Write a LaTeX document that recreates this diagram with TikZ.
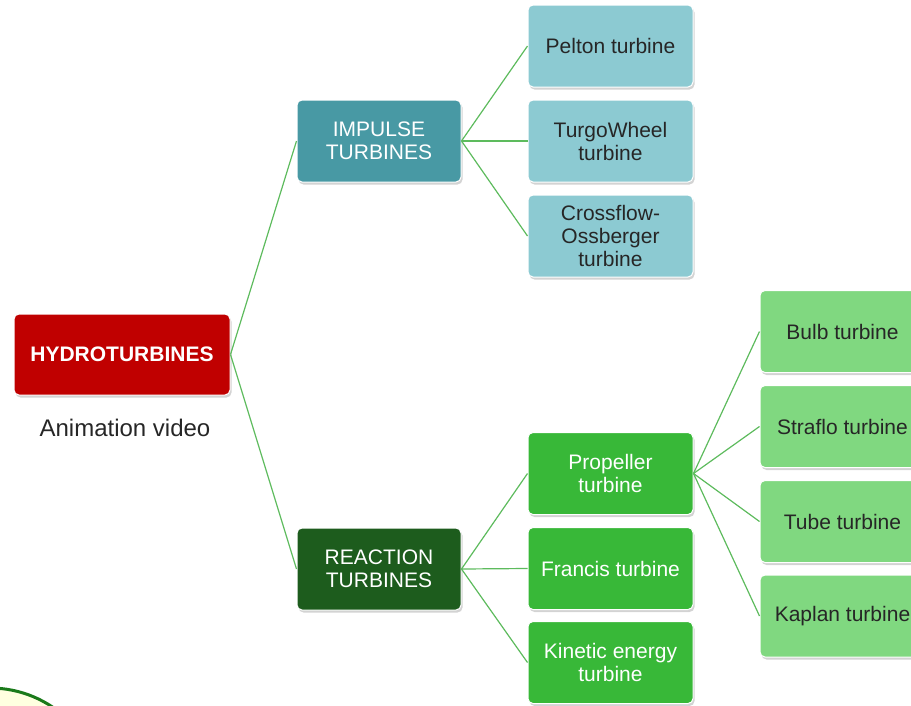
\documentclass[tikz,border=0pt]{standalone}
\usepackage{fontspec}
\setmainfont{Liberation Sans}
\usetikzlibrary{shadows}
\definecolor{hred}{HTML}{C00000}
\definecolor{impc}{HTML}{4899A4}
\definecolor{impl}{HTML}{8CCAD2}
\definecolor{reac}{HTML}{1D5C1D}
\definecolor{reacm}{HTML}{38B838}
\definecolor{reacl}{HTML}{80D880}
\definecolor{linec}{HTML}{5DBB5D}
\definecolor{circc}{HTML}{1A7A1A}
\definecolor{circf}{HTML}{FFFFE0}
\tikzset{
  box/.style={rectangle, rounded corners=5pt, draw=white, line width=1pt,
    minimum width=165pt, minimum height=82pt, align=center, inner sep=2pt,
    font=\fontsize{21}{23}\selectfont,
    drop shadow={shadow xshift=1.5pt, shadow yshift=-2.5pt, opacity=0.35}},
  conn/.style={draw=linec, line width=1.2pt},
}
\begin{document}
\begin{tikzpicture}[x=1pt,y=-1pt]
\useasboundingbox (0,0) rectangle (911,705);
% partial circle bottom-left
\draw[circc, line width=3pt, fill=circf] (-10,800) circle (112);
% nodes
\node[box, fill=hred, text=white, minimum width=216pt, minimum height=81pt,
  font=\fontsize{21}{23}\selectfont\bfseries] (hydro) at (122,354.5) {HYDROTURBINES};
\node[font=\fontsize{24}{26}\selectfont, text=black!85] (anim) at (125,428) {Animation video};
\node[box, fill=impc, text=white, minimum width=164pt] (imp) at (379,141) {IMPULSE\\TURBINES};
\node[box, fill=impl, text=black!85] (pelton) at (610.5,46) {Pelton turbine};
\node[box, fill=impl, text=black!85] (turgo) at (610.5,141) {TurgoWheel\\turbine};
\node[box, fill=impl, text=black!85] (cross) at (610.5,236) {Crossflow-\\Ossberger\\turbine};
\node[box, fill=reac, text=white, minimum width=164pt] (reac) at (379,569) {REACTION\\TURBINES};
\node[box, fill=reacm, text=white] (prop) at (610.5,473.5) {Propeller\\turbine};
\node[box, fill=reacm, text=white] (franc) at (610.5,568.5) {Francis turbine};
\node[box, fill=reacm, text=white] (kin) at (610.5,662.5) {Kinetic energy\\turbine};
\node[box, fill=reacl, text=black!85] (bulb) at (842.5,331.5) {Bulb turbine};
\node[box, fill=reacl, text=black!85] (straf) at (842.5,426.5) {Straflo turbine};
\node[box, fill=reacl, text=black!85] (tube) at (842.5,521.5) {Tube turbine};
\node[box, fill=reacl, text=black!85] (kap) at (842.5,616) {Kaplan turbine};
% connectors
\draw[conn] (hydro.east) -- (imp.west);
\draw[conn] (hydro.east) -- (reac.west);
\draw[conn] (imp.east) -- (pelton.west);
\draw[conn] (imp.east) -- (turgo.west);
\draw[conn] (imp.east) -- (cross.west);
\draw[conn] (reac.east) -- (prop.west);
\draw[conn] (reac.east) -- (franc.west);
\draw[conn] (reac.east) -- (kin.west);
\draw[conn] (prop.east) -- (bulb.west);
\draw[conn] (prop.east) -- (straf.west);
\draw[conn] (prop.east) -- (tube.west);
\draw[conn] (prop.east) -- (kap.west);
\end{tikzpicture}
\end{document}
